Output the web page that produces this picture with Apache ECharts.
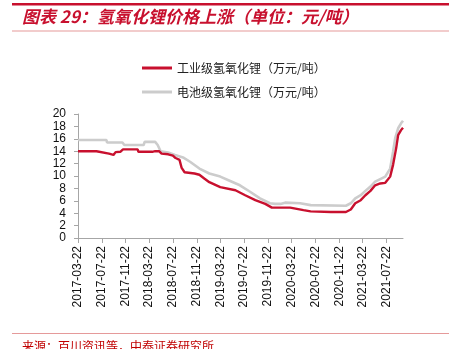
<!DOCTYPE html>
<html>
<head>
<meta charset="utf-8">
<script src="https://cdn.jsdelivr.net/npm/echarts@6/dist/echarts.min.js"></script>
<style>
  html, body { margin: 0; padding: 0; background: #fff; }
  #chart { width: 450px; height: 349px; }
</style>
</head>
<body>
<div id="chart"></div>
<script>
// Price of lithium hydroxide, 10k yuan per tonne, listed at the dates where the price moves
const industrialGrade = [
  ['2017-03-22', 14.0], ['2017-06-25', 14.0], ['2017-06-28', 13.7], ['2017-08-28', 13.6],
  ['2017-09-01', 13.4], ['2017-09-20', 13.4], ['2017-10-01', 13.85], ['2017-10-25', 13.9],
  ['2017-11-08', 14.3], ['2018-01-22', 14.3], ['2018-01-26', 13.9], ['2018-04-07', 13.9],
  ['2018-04-22', 14.0], ['2018-05-12', 14.0], ['2018-05-25', 13.6], ['2018-06-28', 13.5],
  ['2018-07-22', 13.3], ['2018-08-05', 12.9], ['2018-08-25', 12.6], ['2018-09-05', 11.3],
  ['2018-09-20', 10.6], ['2018-11-10', 10.4], ['2018-12-05', 10.2], ['2018-12-30', 9.6],
  ['2019-01-25', 9.0], ['2019-03-22', 8.2], ['2019-06-08', 7.7], ['2019-07-28', 6.9],
  ['2019-09-18', 6.1], ['2019-11-08', 5.5], ['2019-12-12', 4.9], ['2020-03-15', 4.9],
  ['2020-05-22', 4.5], ['2020-06-28', 4.3], ['2020-10-10', 4.2], ['2020-12-26', 4.2],
  ['2021-01-20', 4.6], ['2021-02-12', 5.6], ['2021-03-12', 6.1], ['2021-04-05', 6.9],
  ['2021-05-01', 7.6], ['2021-05-25', 8.5], ['2021-06-20', 8.8], ['2021-07-16', 8.9],
  ['2021-08-10', 9.9], ['2021-08-25', 11.8], ['2021-09-10', 14.5], ['2021-09-20', 16.6],
  ['2021-10-05', 17.4], ['2021-10-15', 17.8]
];

const batteryGrade = [
  ['2017-03-22', 15.8], ['2017-08-15', 15.8], ['2017-08-18', 15.4], ['2017-11-05', 15.4],
  ['2017-11-15', 15.0], ['2017-12-28', 15.0], ['2018-01-02', 15.3], ['2018-01-08', 15.0],
  ['2018-02-22', 15.0], ['2018-02-27', 15.5], ['2018-04-22', 15.5], ['2018-05-05', 15.0],
  ['2018-05-20', 14.0], ['2018-06-28', 13.8], ['2018-08-02', 13.4], ['2018-09-12', 13.0],
  ['2018-10-18', 12.3], ['2018-12-05', 11.2], ['2019-01-25', 10.4], ['2019-03-22', 9.9],
  ['2019-05-12', 9.2], ['2019-07-01', 8.5], ['2019-08-20', 7.5], ['2019-10-12', 6.4],
  ['2019-12-02', 5.6], ['2019-12-28', 5.5], ['2020-01-25', 5.5], ['2020-02-18', 5.7],
  ['2020-05-05', 5.6], ['2020-06-28', 5.3], ['2020-12-26', 5.2], ['2021-01-20', 5.6],
  ['2021-02-12', 6.4], ['2021-03-12', 6.9], ['2021-04-05', 7.6], ['2021-05-01', 8.3],
  ['2021-05-25', 9.1], ['2021-06-20', 9.5], ['2021-07-16', 9.9], ['2021-08-10', 11.2],
  ['2021-08-25', 13.9], ['2021-09-05', 16.1], ['2021-09-20', 17.7], ['2021-10-05', 18.5],
  ['2021-10-15', 18.9]
];

const seriesNames = ['工业级氢氧化锂（万元/吨）', '电池级氢氧化锂（万元/吨）'];
const firstDay = '2017-03-22';
const lastDay = '2021-10-15';
const tickMonths = ['03', '07', '11'];
const tickDay = '22';
const titleText = '图表 29：氢氧化锂价格上涨（单位：元/吨）';
const sourceText = '来源：百川资讯等，中泰证券研究所';

// One category per calendar day so the date ticks land on their real days
function pad(n) { return n < 10 ? '0' + n : '' + n; }
const days = [];
{
  const d = new Date(firstDay + 'T00:00:00Z');
  const end = new Date(lastDay + 'T00:00:00Z');
  while (d <= end) {
    days.push(d.getUTCFullYear() + '-' + pad(d.getUTCMonth() + 1) + '-' + pad(d.getUTCDate()));
    d.setUTCDate(d.getUTCDate() + 1);
  }
}
function isTickDay(idx, value) {
  const parts = value.split('-');
  return parts[2] === tickDay && tickMonths.indexOf(parts[1]) >= 0;
}

const red = '#c8102e';
const gray = '#cccccc';
const cjk = '"Noto Sans CJK SC", sans-serif';
const latin = '"Liberation Sans", Arial, sans-serif';

const chart = echarts.init(document.getElementById('chart'), null, { renderer: 'canvas' });
chart.setOption({
  animation: false,
  backgroundColor: '#ffffff',
  graphic: [
    { type: 'rect', shape: { x: 12, y: 3, width: 437, height: 2.5 }, style: { fill: red } },
    { type: 'rect', shape: { x: 12, y: 30.5, width: 437, height: 1 }, style: { fill: '#e59a9a' } },
    { type: 'text', left: 22, top: 8, style: { text: titleText, fill: red, font: 'italic bold 17px ' + cjk } },
    { type: 'rect', shape: { x: 12, y: 333, width: 437, height: 1 }, style: { fill: '#e59a9a' } },
    { type: 'text', left: 22, top: 340, style: { text: sourceText, fill: '#c00000', font: '12px ' + cjk } }
  ],
  legend: {
    orient: 'vertical',
    left: 137,
    top: 56,
    itemWidth: 30,
    itemHeight: 3,
    itemGap: 10,
    icon: 'rect',
    textStyle: { fontFamily: cjk, fontSize: 12, color: '#222', lineHeight: 14 },
    data: seriesNames
  },
  grid: { left: 78, right: 47, top: 114, bottom: 111, containLabel: false },
  xAxis: {
    type: 'category',
    data: days,
    boundaryGap: false,
    axisLine: { lineStyle: { color: '#a6a6a6', width: 1 } },
    axisTick: { show: true, interval: isTickDay, length: 5, lineStyle: { color: '#a6a6a6' } },
    axisLabel: {
      interval: isTickDay,
      rotate: 90,
      margin: 8,
      fontFamily: latin,
      fontSize: 12,
      color: '#111'
    },
    splitLine: { show: false }
  },
  yAxis: {
    type: 'value',
    min: 0,
    max: 20,
    interval: 2,
    axisLine: { show: true, lineStyle: { color: '#a6a6a6', width: 1 } },
    axisTick: { show: true, length: 4, lineStyle: { color: '#a6a6a6' } },
    axisLabel: { margin: 12, fontFamily: latin, fontSize: 12, color: '#111' },
    splitLine: { show: false }
  },
  series: [
    {
      name: seriesNames[1],
      type: 'line',
      data: batteryGrade,
      showSymbol: false,
      lineStyle: { color: gray, width: 2.6 },
      itemStyle: { color: gray },
      z: 2
    },
    {
      name: seriesNames[0],
      type: 'line',
      data: industrialGrade,
      showSymbol: false,
      lineStyle: { color: red, width: 2.4 },
      itemStyle: { color: red },
      z: 3
    }
  ]
});
</script>
</body>
</html>
